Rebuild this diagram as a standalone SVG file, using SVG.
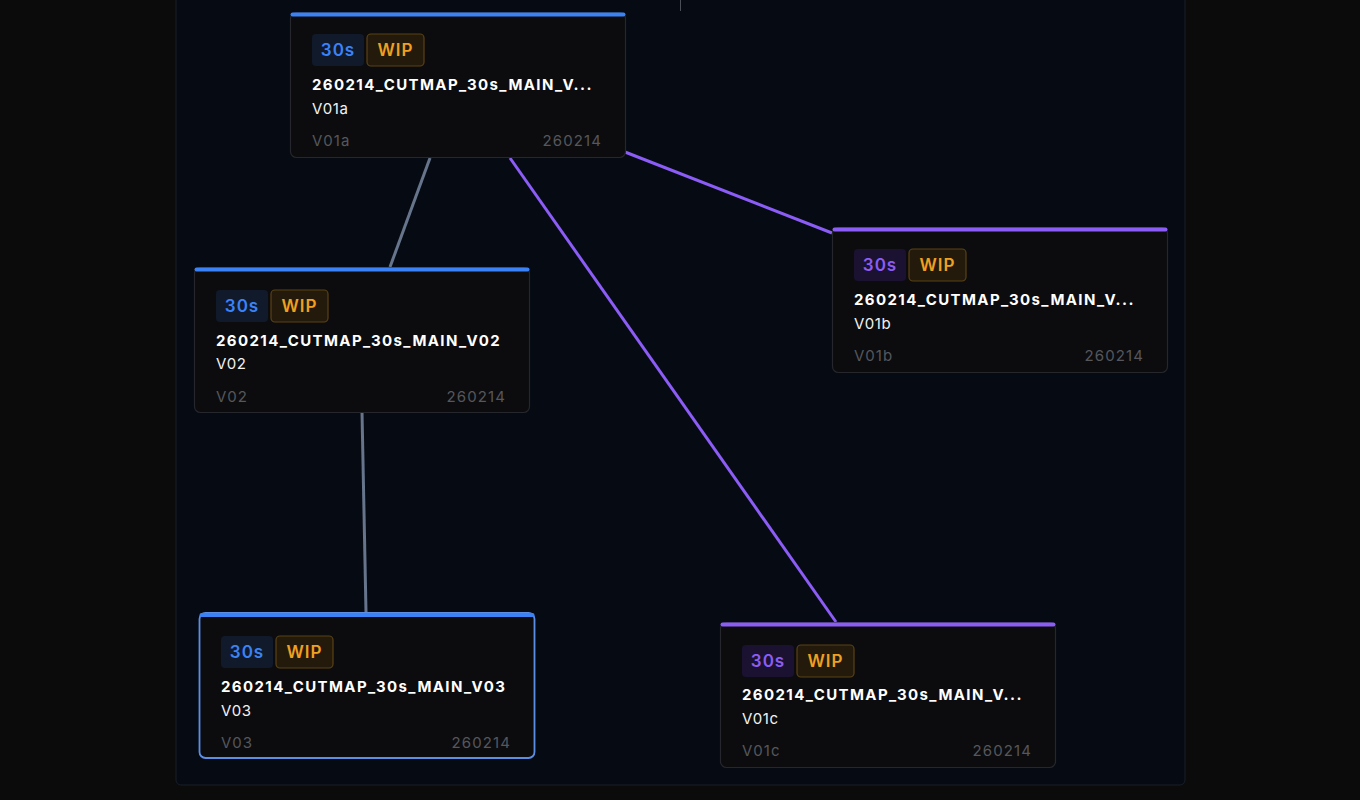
<svg xmlns="http://www.w3.org/2000/svg" width="1360" height="800" viewBox="0 0 1360 800">
<style>
.card{fill:#0c0c0e;stroke:#25272c;stroke-width:1.2}
.sel{fill:#0c0c0e;stroke:#5b8fe6;stroke-width:1.8}
.t{font-family:Inter,"Liberation Sans",sans-serif}
.title{font-size:15px;font-weight:700;fill:#ffffff;letter-spacing:1.4px}
.sub{font-size:15px;fill:#f2f2f2;letter-spacing:0.6px}
.foot{font-size:15px;fill:#55575d;letter-spacing:1.1px}
.bd{font-size:17px;font-weight:600;letter-spacing:1px}
.wipbg{fill:#231a0c;stroke:#5a4214;stroke-width:1.2}
.wip{fill:#f0a020}
.eg{stroke:#66758c;stroke-width:3;fill:none}
.ep{stroke:#8b5cf6;stroke-width:3;fill:none}
</style>
<rect width="1360" height="800" fill="#0b0b0c"/>
<rect x="176" y="-10" width="1009" height="795" rx="5" fill="#060a12" stroke="#1a1e26"/>
<line x1="680.5" y1="0" x2="680.5" y2="11" stroke="#4a4e56" stroke-width="1"/>
<g id="connectors">
<line class="eg" x1="430" y1="158" x2="390" y2="267"/>
<line class="eg" x1="362" y1="412" x2="366" y2="612"/>
<line class="ep" x1="510" y1="158" x2="836" y2="622"/>
<line class="ep" x1="625" y1="152" x2="832" y2="233"/>
</g>
<g id="n1">
<rect class="card" x="290.5" y="12.5" width="335" height="145" rx="6"/>
<rect x="290.5" y="12.5" width="335" height="4" rx="2" fill="#3b82f6"/>
<rect x="312" y="34" width="52" height="32" rx="4" fill="#111a2a"/>
<text class="t bd" x="338" y="56" text-anchor="middle" fill="#3b82f6">30s</text>
<rect class="wipbg" x="367" y="34" width="57" height="32" rx="4"/>
<text class="t bd wip" x="395.5" y="56" text-anchor="middle">WIP</text>
<text class="t title" x="312" y="90">260214_CUTMAP_30s_MAIN_V...</text>
<text class="t sub" x="312" y="114">V01a</text>
<text class="t foot" x="312" y="146">V01a</text>
<text class="t foot" x="602" y="146" text-anchor="end">260214</text>
</g>
<g id="n2">
<rect class="card" x="194.5" y="267.5" width="335" height="145" rx="6"/>
<rect x="194.5" y="267.5" width="335" height="4" rx="2" fill="#3b82f6"/>
<rect x="216" y="290" width="52" height="32" rx="4" fill="#111a2a"/>
<text class="t bd" x="242" y="312" text-anchor="middle" fill="#3b82f6">30s</text>
<rect class="wipbg" x="271" y="290" width="57" height="32" rx="4"/>
<text class="t bd wip" x="299.5" y="312" text-anchor="middle">WIP</text>
<text class="t title" x="216" y="346">260214_CUTMAP_30s_MAIN_V02</text>
<text class="t sub" x="216" y="369">V02</text>
<text class="t foot" x="216" y="402">V02</text>
<text class="t foot" x="506" y="402" text-anchor="end">260214</text>
</g>
<g id="n3">
<rect class="sel" x="199.5" y="613" width="335" height="145" rx="6"/>
<rect x="199.5" y="613" width="335" height="4" rx="2" fill="#3b82f6"/>
<rect x="221" y="636" width="52" height="32" rx="4" fill="#111a2a"/>
<text class="t bd" x="247" y="658" text-anchor="middle" fill="#3b82f6">30s</text>
<rect class="wipbg" x="276" y="636" width="57" height="32" rx="4"/>
<text class="t bd wip" x="304.5" y="658" text-anchor="middle">WIP</text>
<text class="t title" x="221" y="692">260214_CUTMAP_30s_MAIN_V03</text>
<text class="t sub" x="221" y="716">V03</text>
<text class="t foot" x="221" y="748">V03</text>
<text class="t foot" x="511" y="748" text-anchor="end">260214</text>
</g>
<g id="n4">
<rect class="card" x="832.5" y="227.5" width="335" height="145" rx="6"/>
<rect x="832.5" y="227.5" width="335" height="4" rx="2" fill="#8b5cf6"/>
<rect x="854" y="249" width="52" height="32" rx="4" fill="#1a1230"/>
<text class="t bd" x="880" y="271" text-anchor="middle" fill="#8b5cf6">30s</text>
<rect class="wipbg" x="909" y="249" width="57" height="32" rx="4"/>
<text class="t bd wip" x="937.5" y="271" text-anchor="middle">WIP</text>
<text class="t title" x="854" y="305">260214_CUTMAP_30s_MAIN_V...</text>
<text class="t sub" x="854" y="329">V01b</text>
<text class="t foot" x="854" y="361">V01b</text>
<text class="t foot" x="1144" y="361" text-anchor="end">260214</text>
</g>
<g id="n5">
<rect class="card" x="720.5" y="622.5" width="335" height="145" rx="6"/>
<rect x="720.5" y="622.5" width="335" height="4" rx="2" fill="#8b5cf6"/>
<rect x="742" y="645" width="52" height="32" rx="4" fill="#1a1230"/>
<text class="t bd" x="768" y="667" text-anchor="middle" fill="#8b5cf6">30s</text>
<rect class="wipbg" x="797" y="645" width="57" height="32" rx="4"/>
<text class="t bd wip" x="825.5" y="667" text-anchor="middle">WIP</text>
<text class="t title" x="742" y="700">260214_CUTMAP_30s_MAIN_V...</text>
<text class="t sub" x="742" y="724">V01c</text>
<text class="t foot" x="742" y="756">V01c</text>
<text class="t foot" x="1032" y="756" text-anchor="end">260214</text>
</g>
</svg>
